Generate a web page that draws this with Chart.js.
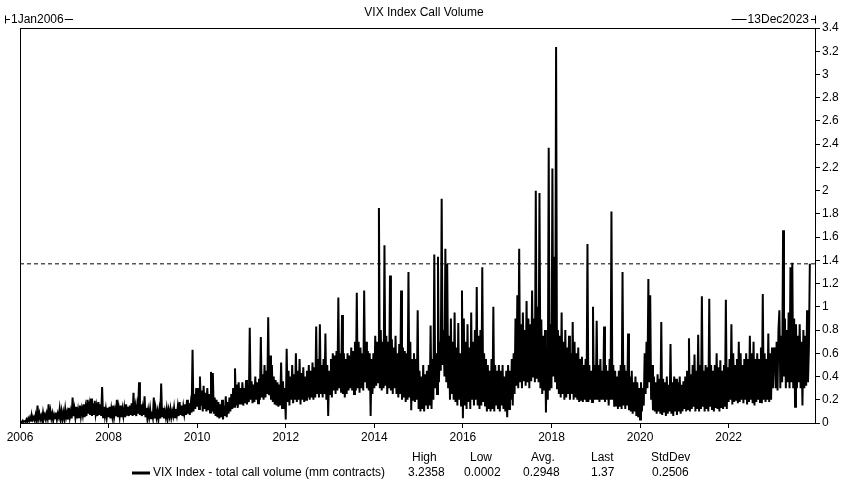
<!DOCTYPE html>
<html>
<head>
<meta charset="utf-8">
<script src="https://cdn.jsdelivr.net/npm/chart.js@4.4.1/dist/chart.umd.min.js"></script>
<style>
  html, body { margin: 0; padding: 0; background: #fff; }
  #wrap { position: relative; width: 847px; height: 498px; }
  canvas { display: block; }
</style>
</head>
<body>
<div id="wrap"><canvas id="c" width="847" height="498"></canvas></div>
<script>
// ---- data (weekly-ish readings, values in mm contracts) ----
const startYear = 2006;
const stepsPerYear = 48;
const endYear = 2023.95; // 13Dec2023

const v2006 = [0.0002,0.01,0.005,0.02,0.01,0.015,0.01,0.03, 0.01,0.04,0.02,0.05,0.02,0.06,0.03,0.05, 0.02,0.07,0.03,0.15,0.04,0.08,0.03,0.06, 0.02,0.09,0.04,0.07,0.03,0.08,0.04,0.16, 0.03,0.1,0.04,0.08,0.02,0.07,0.04,0.09, 0.03,0.08,0.05,0.12,0.04,0.1,0.03,0.09];
const v2007 = [0.04,0.12,0.05,0.09,0.03,0.13,0.05,0.1, 0.04,0.22,0.06,0.12,0.05,0.14,0.04,0.11, 0.05,0.15,0.06,0.12,0.07,0.16,0.05,0.13, 0.06,0.2,0.08,0.15,0.07,0.21,0.06,0.17, 0.07,0.19,0.08,0.14,0.06,0.18,0.07,0.16, 0.06,0.31,0.05,0.14,0.06,0.12,0.05,0.13];
const v2008 = [0.05,0.14,0.04,0.12,0.06,0.15,0.05,0.11, 0.06,0.2,0.05,0.13,0.06,0.15,0.05,0.12, 0.06,0.13,0.05,0.16,0.07,0.14,0.06,0.15, 0.07,0.17,0.06,0.26,0.07,0.14,0.06,0.15, 0.08,0.35,0.07,0.16,0.06,0.13,0.07,0.23, 0.05,0.13,0.04,0.11,0.05,0.12,0.04,0.1];
const v2009 = [0.05,0.22,0.04,0.12,0.05,0.1,0.03,0.11, 0.04,0.34,0.05,0.13,0.04,0.1,0.05,0.12, 0.04,0.11,0.06,0.12,0.05,0.1,0.06,0.13, 0.05,0.12,0.07,0.14,0.06,0.18,0.07,0.15, 0.06,0.14,0.08,0.16,0.07,0.2,0.08,0.17, 0.07,0.16,0.09,0.63,0.1,0.25,0.12,0.3];
const v2010 = [0.14,0.3,0.12,0.4,0.15,0.28,0.1,0.32, 0.12,0.26,0.1,0.3,0.11,0.25,0.09,0.44, 0.1,0.43,0.08,0.22,0.06,0.2,0.05,0.18, 0.04,0.16,0.05,0.2,0.03,0.15,0.06,0.23, 0.05,0.18,0.08,0.22,0.1,0.25,0.12,0.3, 0.14,0.47,0.15,0.33,0.13,0.35,0.16,0.3];
const v2011 = [0.16,0.35,0.15,0.3,0.17,0.37,0.16,0.32, 0.18,0.82,0.2,0.36,0.17,0.33,0.18,0.4, 0.2,0.35,0.17,0.38,0.2,0.74,0.22,0.42, 0.2,0.5,0.22,0.45,0.25,0.91,0.24,0.58, 0.2,0.5,0.18,0.4,0.16,0.37,0.15,0.35, 0.14,0.33,0.15,0.52,0.13,0.36,0.12,0.3];
const v2012 = [0.03,0.64,0.18,0.45,0.15,0.4,0.2,0.5, 0.17,0.42,0.2,0.6,0.18,0.45,0.2,0.55, 0.16,0.43,0.2,0.48,0.18,0.4,0.2,0.45, 0.22,0.5,0.2,0.45,0.22,0.52,0.2,0.48, 0.22,0.83,0.25,0.55,0.22,0.85,0.25,0.5, 0.22,0.55,0.25,0.77,0.2,0.5,0.06,0.45];
const v2013 = [0.25,0.55,0.22,0.6,0.28,0.58,0.25,0.62, 0.28,1.08,0.3,0.6,0.26,0.93,0.25,0.6, 0.22,0.55,0.25,0.6,0.28,0.58,0.3,0.65, 0.28,0.62,0.25,0.7,0.28,1.12,0.3,0.7, 0.26,0.65,0.3,0.6,0.28,1.14,0.35,0.7, 0.3,0.62,0.28,0.6,0.06,0.55,0.25,0.6];
const v2014 = [0.3,0.75,0.32,0.7,0.35,1.85,0.3,0.8, 0.28,0.7,0.3,1.53,0.32,0.75,0.25,0.7, 0.3,1.27,0.28,0.72,0.25,0.65,0.3,0.75, 0.25,0.6,0.22,0.68,0.25,1.14,0.2,0.65, 0.22,0.62,0.18,0.6,0.2,1.3,0.22,0.7, 0.11,0.55,0.2,0.6,0.18,0.55,0.2,0.97];
const v2015 = [0.12,0.45,0.1,0.4,0.12,0.5,0.1,0.42, 0.15,0.45,0.12,0.5,0.15,0.84,0.12,0.55, 0.2,1.45,0.3,0.6,0.25,1.43,0.35,0.7, 0.45,1.93,0.5,0.8,0.4,1.5,0.35,1.37, 0.3,0.75,0.2,0.9,0.25,0.7,0.2,0.95, 0.18,0.65,0.15,0.86,0.2,0.6,0.15,1.14];
const v2016 = [0.04,0.9,0.15,0.7,0.12,0.85,0.18,0.65, 0.12,0.95,0.2,0.7,0.15,0.8,0.2,1.17, 0.15,0.75,0.12,0.8,0.15,1.34,0.18,0.6, 0.15,0.55,0.1,0.5,0.12,0.45,0.1,0.55, 0.12,1.0,0.1,0.5,0.15,0.45,0.12,0.5, 0.1,0.45,0.15,0.5,0.12,0.4,0.1,0.45];
const v2017 = [0.05,0.5,0.12,0.45,0.2,0.55,0.15,0.6, 0.25,0.9,0.32,1.1,0.3,1.5,0.35,0.85, 0.3,0.95,0.36,0.8,0.32,1.05,0.35,0.9, 0.3,0.85,0.36,1.14,0.4,0.9,0.35,2.0, 0.38,1.0,0.35,1.98,0.3,0.89,0.25,0.75, 0.28,0.8,0.09,0.65,0.2,2.37,0.28,0.85];
const v2018 = [0.3,2.19,0.4,1.43,0.35,3.2358,0.3,0.8, 0.25,0.75,0.22,0.95,0.25,0.7,0.2,0.8, 0.22,0.65,0.25,0.75,0.2,0.6,0.25,0.87, 0.2,0.7,0.22,0.6,0.2,0.65,0.18,0.55, 0.2,0.57,0.18,0.5,0.2,0.55,0.18,1.54, 0.18,0.5,0.2,0.45,0.18,1.0,0.2,0.5];
const v2019 = [0.2,0.88,0.2,0.5,0.18,0.55,0.2,0.45, 0.2,0.83,0.18,0.5,0.2,0.45,0.15,0.55, 0.2,1.82,0.2,0.5,0.14,0.45,0.15,0.4, 0.12,0.45,0.14,0.5,0.12,1.3,0.15,0.5, 0.12,0.45,0.15,0.77,0.11,0.4,0.1,0.45, 0.08,0.35,0.1,0.4,0.06,0.35,0.05,0.3];
const v2020 = [0.03,0.35,0.1,0.3,0.15,0.6,0.25,0.7, 0.3,1.24,0.35,1.1,0.2,0.5,0.11,0.4, 0.1,0.35,0.08,0.42,0.1,0.38,0.08,0.87, 0.07,0.38,0.1,0.35,0.06,0.4,0.08,0.33, 0.1,0.68,0.08,0.35,0.06,0.4,0.1,0.38, 0.07,0.35,0.1,0.4,0.08,0.33,0.1,0.36];
const v2021 = [0.12,0.4,0.1,0.45,0.12,0.73,0.1,0.42, 0.12,0.5,0.14,0.59,0.1,0.45,0.12,0.76, 0.1,0.5,0.12,1.09,0.14,0.45,0.1,0.5, 0.12,0.48,0.1,1.07,0.14,0.5,0.12,0.45, 0.1,0.5,0.13,0.6,0.12,0.48,0.1,0.54, 0.13,0.45,0.12,0.5,0.14,1.06,0.12,0.48];
const v2022 = [0.18,0.55,0.2,0.85,0.16,0.6,0.18,0.5, 0.2,0.55,0.17,0.7,0.18,0.6,0.2,0.5, 0.17,0.55,0.2,0.6,0.16,0.55,0.18,0.75, 0.2,0.6,0.17,0.7,0.15,0.55,0.18,0.6, 0.2,0.55,0.18,0.65,0.17,1.11,0.2,0.6, 0.18,0.55,0.2,0.77,0.18,0.6,0.2,0.65];
const v2023 = [0.3,0.6,0.65,0.3,0.7,0.28,0.8,0.97, 0.3,0.75,0.35,1.66,0.4,0.9,0.3,0.8, 0.35,0.95,0.3,1.34,0.35,1.38,0.3,0.9, 0.14,0.85,0.3,0.75,0.35,0.85,0.3,0.7, 0.15,0.8,0.3,0.75,0.32,0.97,0.35,0.65, 1.37];

const xTickLabels = [2006, 2008, 2010, 2012, 2014, 2016, 2018, 2020, 2022];
const yMin = 0, yMax = 3.4, yStep = 0.2;

const titleText = 'VIX Index Call Volume';
const startLabel = '1Jan2006';
const endLabel = '13Dec2023';
const seriesLabel = 'VIX Index - total call volume (mm contracts)';
const statNames = ['High', 'Low', 'Avg.', 'Last', 'StdDev'];
const statValues = ['3.2358', '0.0002', '0.2948', '1.37', '0.2506'];

// ---- build ----
const series = [].concat(v2006, v2007, v2008, v2009, v2010, v2011, v2012, v2013, v2014,
  v2015, v2016, v2017, v2018, v2019, v2020, v2021, v2022, v2023);
const points = series.map((y, i) => ({ x: startYear + i / stepsPerYear, y: y }));
const lastValue = series[series.length - 1];
const lastLine = [{ x: startYear, y: lastValue }, { x: endYear, y: lastValue }];

const FONT = '"Liberation Sans", Arial, sans-serif';

const decor = {
  id: 'decor',
  afterDraw(chart) {
    const ctx = chart.ctx;
    const a = chart.chartArea;
    ctx.save();
    ctx.strokeStyle = '#000';
    ctx.lineWidth = 1;
    ctx.strokeRect(a.left + 0.5, a.top + 0.5, a.right - a.left, a.bottom - a.top);

    ctx.fillStyle = '#000';
    ctx.font = '12px ' + FONT;
    ctx.textBaseline = 'middle';
    // title
    ctx.textAlign = 'center';
    ctx.fillText(titleText, 424, 13);
    // left date bracket
    ctx.textAlign = 'left';
    const hy = 19.5;
    ctx.beginPath();
    ctx.moveTo(5.5, hy - 4); ctx.lineTo(5.5, hy + 4);
    ctx.moveTo(5.5, hy); ctx.lineTo(10, hy);
    const lw = ctx.measureText(startLabel).width;
    ctx.moveTo(11 + lw + 1, hy); ctx.lineTo(73, hy);
    ctx.stroke();
    ctx.fillText(startLabel, 11, hy);
    // right date bracket
    const rw = ctx.measureText(endLabel).width;
    const rEnd = a.right - 4;
    const rStart = rEnd - rw - 2;
    ctx.beginPath();
    ctx.moveTo(rStart - 16, hy); ctx.lineTo(rStart - 1, hy);
    ctx.moveTo(rEnd, hy); ctx.lineTo(a.right + 0.5, hy);
    ctx.moveTo(a.right + 0.5, hy - 4); ctx.lineTo(a.right + 0.5, hy + 4);
    ctx.stroke();
    ctx.fillText(endLabel, rStart, hy);

    // legend / stats
    const ly = 473;
    ctx.beginPath();
    ctx.lineWidth = 3;
    ctx.moveTo(132, ly); ctx.lineTo(150, ly);
    ctx.stroke();
    ctx.fillText(seriesLabel, 153, ly);
    const nameX = [412, 470, 531, 591, 651];
    const valX = [408, 464, 523, 591, 652];
    statNames.forEach((n, i) => ctx.fillText(n, nameX[i], 458));
    statValues.forEach((v, i) => ctx.fillText(v, valX[i], ly));
    ctx.restore();
  }
};

new Chart(document.getElementById('c'), {
  type: 'line',
  data: {
    datasets: [
      {
        label: seriesLabel,
        data: points,
        borderColor: '#000',
        borderWidth: 2,
        pointRadius: 0,
        tension: 0,
        fill: false,
        order: 1
      },
      {
        label: 'last',
        data: lastLine,
        borderColor: '#000',
        borderWidth: 1,
        borderDash: [4, 3],
        pointRadius: 0,
        fill: false,
        order: 2
      }
    ]
  },
  options: {
    responsive: false,
    animation: false,
    devicePixelRatio: 1,
    layout: { padding: { left: 20, top: 28, right: 0, bottom: 0 } },
    plugins: {
      legend: { display: false },
      title: { display: false },
      tooltip: { enabled: false }
    },
    scales: {
      x: {
        type: 'linear',
        min: startYear,
        max: endYear,
        afterBuildTicks: (s) => { s.ticks = xTickLabels.map(v => ({ value: v })); },
        afterFit: (s) => { s.height = 75; },
        ticks: {
          color: '#000',
          font: { family: FONT, size: 12 },
          padding: 2,
          maxRotation: 0,
          autoSkip: false,
          callback: (v) => String(v)
        },
        grid: { drawOnChartArea: false, drawTicks: true, tickLength: 5, color: '#000' },
        border: { display: true, color: '#000' }
      },
      y: {
        position: 'right',
        min: yMin,
        max: yMax,
        afterBuildTicks: (s) => {
          const t = [];
          for (let k = 0; k <= Math.round((yMax - yMin) / yStep); k++) t.push({ value: +(yMin + k * yStep).toFixed(1) });
          s.ticks = t;
        },
        afterFit: (s) => { s.width = 32; },
        ticks: {
          color: '#000',
          font: { family: FONT, size: 12 },
          padding: 2,
          autoSkip: false,
          callback: (v) => String(Number(v.toFixed(1)))
        },
        grid: { drawOnChartArea: false, drawTicks: true, tickLength: 5, color: '#000' },
        border: { display: true, color: '#000' }
      }
    }
  },
  plugins: [decor]
});
</script>
</body>
</html>
